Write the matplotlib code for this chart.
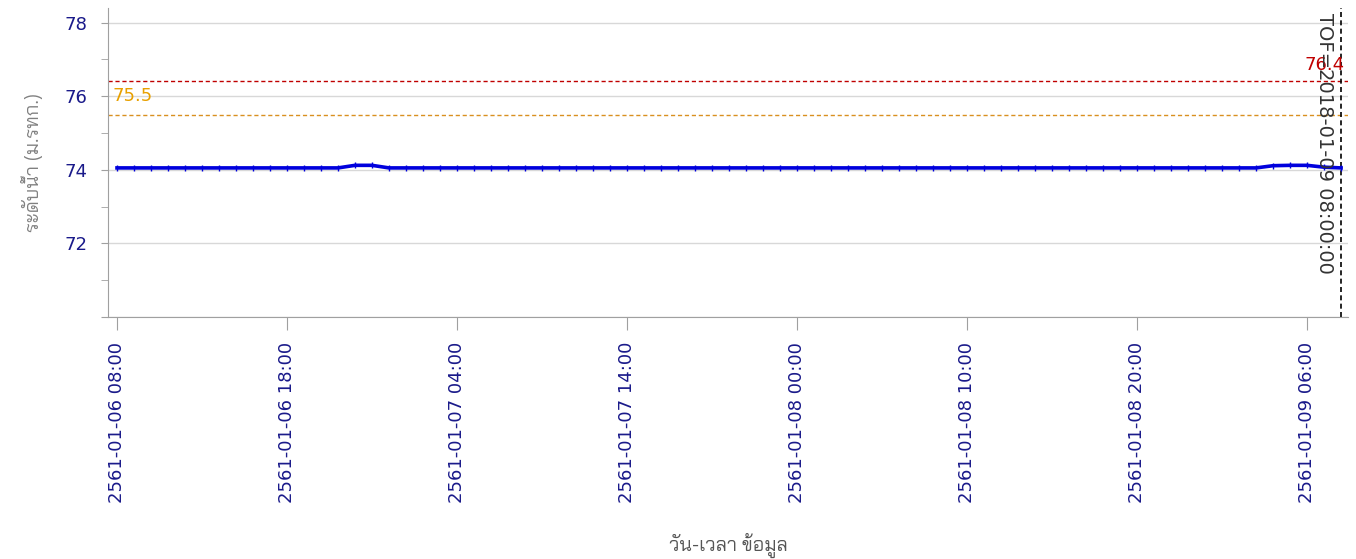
import datetime as dt
import matplotlib
matplotlib.use("Agg")
import matplotlib.pyplot as plt
import matplotlib.dates as mdates
from matplotlib.ticker import MultipleLocator, FuncFormatter

plt.rcParams['font.family'] = ['DejaVu Sans', 'Bai Jamjuree']
thai = ['Bai Jamjuree', 'DejaVu Sans']

# hourly water level, 2018-01-06 08:00 .. 2018-01-09 08:00
start = dt.datetime(2018, 1, 6, 8, 0)
levels = [74.05] * 14 + [74.12, 74.12] + [74.05] * 52 + [74.11, 74.12, 74.12, 74.07, 74.05]
times = [start + dt.timedelta(hours=i) for i in range(len(levels))]

warn_level = 75.5
crit_level = 76.4
tof_time = dt.datetime(2018, 1, 9, 8, 0)
tof_label = "TOF=2018-01-09 08:00:00"

ylabel = "ระดับน้ำ (ม.รทก.)"
xlabel = "วัน-เวลา ข้อมูล"

fig = plt.figure(figsize=(13.56, 5.59), dpi=100)
ax = fig.add_axes([0.0796, 0.433, 0.9144, 0.553])

ax.plot(times, levels, color='#0000dd', lw=2.6, marker='|', ms=5, mew=1, zorder=3)

ax.axhline(crit_level, color='#c00000', ls='--', lw=1, dashes=(3, 2))
ax.axhline(warn_level, color='#d99020', ls='--', lw=1, dashes=(3, 2))
ax.axvline(tof_time, color='black', ls='--', lw=1.2, dashes=(3, 2))

ax.text(0.004, warn_level + 0.27, f"{warn_level}", color='#e8a000', fontsize=13,
        transform=ax.get_yaxis_transform(), ha='left', va='bottom')
ax.text(0.9975, crit_level + 0.2, f"{crit_level}", color='#c00000', fontsize=13,
        transform=ax.get_yaxis_transform(), ha='right', va='bottom')
ax.text(tof_time - dt.timedelta(minutes=25), 78.25, tof_label, rotation=270,
        fontsize=14, color='#333333', ha='right', va='top')

ax.set_ylim(70, 78.4)
ax.set_xlim(start - dt.timedelta(minutes=32), start + dt.timedelta(hours=72.4))
ax.yaxis.set_major_locator(MultipleLocator(2))
ax.yaxis.set_minor_locator(MultipleLocator(1))
ax.yaxis.set_major_formatter(FuncFormatter(lambda v, p: f"{v:.0f}" if v >= 72 else ""))

xticks = [start + dt.timedelta(hours=10 * i) for i in range(8)]
ax.set_xticks(xticks)
ax.xaxis.set_major_formatter(FuncFormatter(
    lambda v, p: (lambda d: f"{d.year + 543}-{d:%m-%d %H:%M}")(mdates.num2date(v))))
plt.setp(ax.get_xticklabels(), rotation=90)

ax.grid(axis='y', which='major', color='#d8d8d8', lw=1)
ax.set_axisbelow(True)
for s in ['top', 'right']:
    ax.spines[s].set_visible(False)
for s in ['left', 'bottom']:
    ax.spines[s].set_color('#a0a0a0')
ax.tick_params(which='both', colors='#a0a0a0', labelsize=13)
ax.tick_params(axis='y', which='both', length=5, pad=10)
ax.tick_params(axis='x', length=9, pad=9)
ax.tick_params(axis='both', labelcolor='#1a1a8a')

ax.set_ylabel(ylabel, color='#808080', fontsize=14, labelpad=15, family=thai)
ax.set_xlabel(xlabel, color='#555555', fontsize=14, labelpad=21, family=thai)

fig.savefig("out.png", dpi=100)
